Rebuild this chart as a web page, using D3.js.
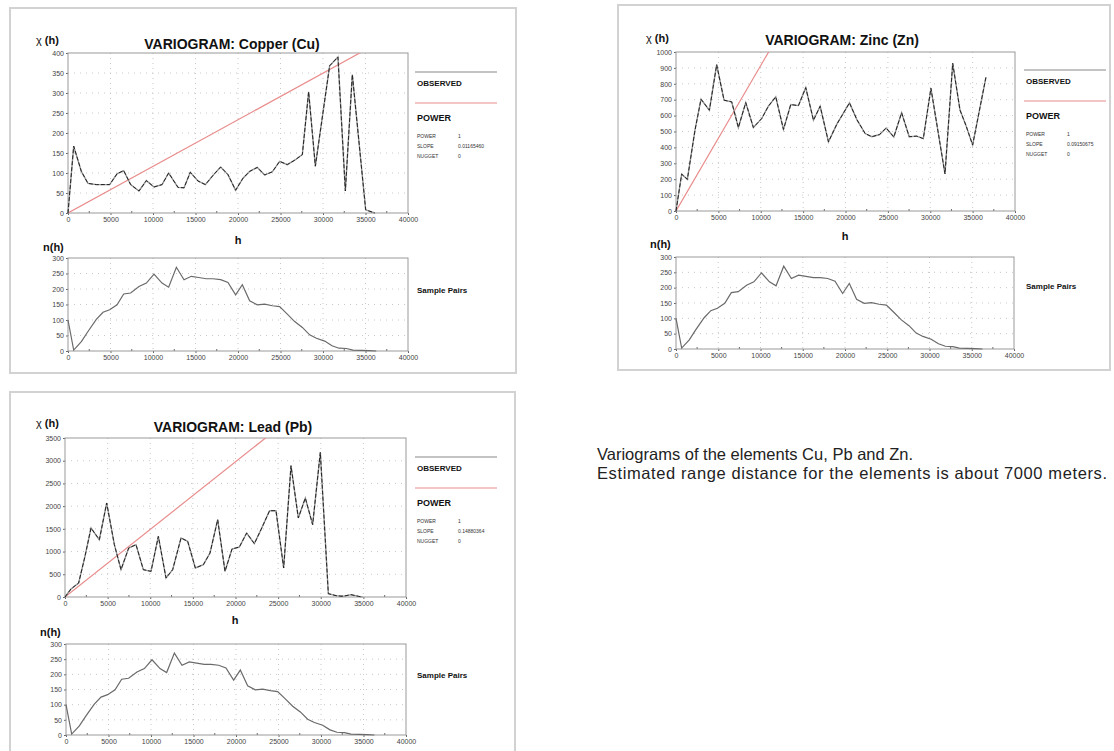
<!DOCTYPE html>
<html>
<head>
<meta charset="utf-8">
<script src="https://cdnjs.cloudflare.com/ajax/libs/d3/7.8.5/d3.min.js"></script>
<style>
  body { margin: 0; background: #fff; }
  svg { font-family: "Liberation Sans", Arial, sans-serif; }
  .tick text { fill: #444; font-size: 7px; }
  .tick line { stroke: #666; }
</style>
</head>
<body>
<script>
// lag distances (h) and observed semivariance for each element
const lagCu = [0, 670, 1570, 2350, 3330, 4900, 5770, 6550, 7370, 8350, 9220, 10120, 11060, 11840, 12940, 13650, 14390, 15290, 16160, 17140, 17960, 18820, 19720, 20590, 21370, 22270, 23140, 24040, 24900, 25800, 26670, 27570, 28310, 29100, 30780, 31760, 32630, 33450, 35020, 36080];
const gammaCu = [0, 167, 104, 74, 71, 71, 98, 106, 71, 55, 81, 65, 71, 100, 64, 63, 102, 80, 71, 96, 115, 96, 57, 87, 104, 114, 95, 103, 129, 121, 132, 146, 303, 117, 368, 390, 55, 346, 8, 0];

const lagZn = [0, 670, 1340, 2240, 2950, 3940, 4800, 5670, 6570, 7360, 8230, 9130, 10120, 10900, 11770, 12680, 13540, 14450, 15310, 16220, 17010, 17990, 18980, 20470, 21340, 22320, 23110, 24020, 24800, 25700, 26620, 27520, 28400, 29180, 30080, 31740, 32650, 33510, 34200, 35000, 36570];
const gammaZn = [0, 232, 199, 508, 703, 634, 920, 697, 686, 525, 682, 525, 582, 659, 718, 513, 669, 663, 776, 571, 659, 435, 546, 680, 575, 487, 467, 481, 522, 465, 618, 467, 471, 455, 772, 233, 929, 635, 540, 415, 841];

const lagPb = [0, 700, 1600, 2350, 3050, 4030, 4890, 5790, 6570, 7470, 8330, 9190, 10090, 10950, 11850, 12630, 13610, 14390, 15290, 16230, 17010, 17910, 18770, 19590, 20450, 21310, 22210, 22990, 24000, 24750, 25650, 26510, 27370, 28190, 29050, 29950, 30890, 31790, 32570, 33550, 34440, 34900];
const gammaPb = [0, 176, 308, 900, 1519, 1262, 2069, 1152, 602, 1078, 1152, 602, 565, 1335, 418, 602, 1299, 1225, 638, 712, 968, 1702, 565, 1057, 1100, 1409, 1174, 1482, 1900, 1900, 638, 2890, 1739, 2179, 1592, 3184, 73, 29, 15, 51, 15, 0];

// number of sample pairs per lag (same in all three panels)
const lagPairs = [0, 670, 1570, 2350, 3330, 4120, 4900, 5770, 6550, 7370, 8350, 9220, 10120, 11060, 11840, 12750, 13650, 14510, 15370, 16270, 17060, 17960, 18820, 19720, 20510, 21370, 22270, 23140, 24040, 24900, 25800, 26670, 27570, 28430, 29220, 30200, 31060, 31880, 32750, 33530, 34510, 35410, 36270];
const nPairs = [100, 3, 30, 63, 102, 125, 133, 149, 184, 187, 208, 219, 248, 219, 206, 270, 230, 241, 237, 233, 233, 230, 221, 181, 214, 162, 149, 151, 146, 143, 119, 95, 76, 52, 41, 32, 17, 9, 8, 3, 2, 1, 0];

// axis ticks
const hTicks = [0, 5000, 10000, 15000, 20000, 25000, 30000, 35000, 40000];
const cuTicks = [0, 50, 100, 150, 200, 250, 300, 350, 400];
const znTicks = [0, 100, 200, 300, 400, 500, 600, 700, 800, 900, 1000];
const pbTicks = [0, 500, 1000, 1500, 2000, 2500, 3000, 3500];
const pairTicks = [0, 50, 100, 150, 200, 250, 300];

// power model parameters shown in the legends
const titles = ['VARIOGRAM: Copper (Cu)', 'VARIOGRAM: Zinc (Zn)', 'VARIOGRAM: Lead (Pb)'];
const modelKeys = ['POWER', 'SLOPE', 'NUGGET'];
const modelCu = ['1', '0.01165460', '0'];
const modelZn = ['1', '0.09150675', '0'];
const modelPb = ['1', '0.14880364', '0'];

const note = ['Variograms of the elements Cu, Pb and Zn.',
              'Estimated range distance for the elements is about 7000 meters.'];

const svg = d3.select('body').append('svg')
    .attr('width', 1114)
    .attr('height', 751);

let clipCount = 0;

function drawPlot(box, yTicks, lag, vals, slope, isPairs) {
    const x = d3.scaleLinear().domain([0, 40000]).range([box.left, box.right]);
    const y = d3.scaleLinear().domain([0, d3.max(yTicks)]).range([box.bottom, box.top]);
    const g = svg.append('g');

    // faint dotted grid
    g.selectAll('.vgrid')
        .data(hTicks.slice(1, -1))
        .enter().append('line')
        .attr('x1', d => x(d)).attr('x2', d => x(d))
        .attr('y1', box.top).attr('y2', box.bottom)
        .attr('stroke', '#c8c8c8').attr('stroke-dasharray', '1,4');
    g.selectAll('.hgrid')
        .data(yTicks.slice(1, -1))
        .enter().append('line')
        .attr('x1', box.left).attr('x2', box.right)
        .attr('y1', d => y(d)).attr('y2', d => y(d))
        .attr('stroke', '#c8c8c8').attr('stroke-dasharray', '1,5');

    // minor ticks on the h axis
    g.selectAll('.minor')
        .data(d3.range(2500, 40000, 5000))
        .enter().append('line')
        .attr('x1', d => x(d)).attr('x2', d => x(d))
        .attr('y1', box.bottom).attr('y2', box.bottom - 2)
        .attr('stroke', '#666');

    const xAxis = g.append('g')
        .attr('transform', `translate(0, ${box.bottom})`)
        .call(d3.axisBottom(x).tickValues(hTicks).tickFormat(d3.format('d')).tickSize(2).tickPadding(2));
    xAxis.select('.domain').remove();

    const yAxis = g.append('g')
        .attr('transform', `translate(${box.left}, 0)`)
        .call(d3.axisLeft(y).tickValues(yTicks).tickFormat(d3.format('d')).tickSize(2).tickPadding(2));
    yAxis.select('.domain').remove();

    g.append('rect')
        .attr('x', box.left).attr('y', box.top)
        .attr('width', box.right - box.left).attr('height', box.bottom - box.top)
        .attr('fill', 'none').attr('stroke', '#999').attr('stroke-width', 1);

    const id = 'clip' + (clipCount++);
    svg.append('clipPath').attr('id', id)
        .append('rect')
        .attr('x', box.left).attr('y', box.top)
        .attr('width', box.right - box.left).attr('height', box.bottom - box.top);

    if (slope) {
        g.append('line')
            .attr('clip-path', `url(#${id})`)
            .attr('x1', x(0)).attr('y1', y(0))
            .attr('x2', x(40000)).attr('y2', y(slope * 40000))
            .attr('stroke', '#e98c8c').attr('stroke-width', 1.2);
    }

    const pts = lag.map((h, i) => [h, vals[i]]);
    const line = d3.line().x(d => x(d[0])).y(d => y(d[1]));

    if (isPairs) {
        g.append('path').datum(pts)
            .attr('d', line)
            .attr('fill', 'none').attr('stroke', '#6a6a6a').attr('stroke-width', 1.2);
    } else {
        g.append('path').datum(pts)
            .attr('d', line)
            .attr('fill', 'none').attr('stroke', '#999').attr('stroke-width', 1.4);
        g.append('path').datum(pts)
            .attr('d', line)
            .attr('fill', 'none').attr('stroke', '#222').attr('stroke-width', 1)
            .attr('stroke-dasharray', '4,2');
    }
}

function label(txt, px, py, size, opts = {}) {
    return svg.append('text')
        .attr('x', px).attr('y', py)
        .attr('font-size', size)
        .attr('font-weight', opts.weight || 'bold')
        .attr('text-anchor', opts.anchor || 'start')
        .attr('fill', opts.fill || '#111')
        .text(txt);
}

function drawLegend(lx, ly, model) {
    // ly: y of the grey "observed" rule
    svg.append('line')
        .attr('x1', lx - 2).attr('x2', lx + 80)
        .attr('y1', ly).attr('y2', ly)
        .attr('stroke', '#888').attr('stroke-width', 1);
    label('OBSERVED', lx, ly + 14, 8);
    svg.append('line')
        .attr('x1', lx - 2).attr('x2', lx + 80)
        .attr('y1', ly + 31).attr('y2', ly + 31)
        .attr('stroke', '#e98c8c').attr('stroke-width', 1.2);
    label('POWER', lx, ly + 49, 9);
    modelKeys.forEach((k, i) => {
        label(k, lx, ly + 66 + i * 10, 5, { weight: 'normal', fill: '#333' });
        label(model[i], lx + 41, ly + 66 + i * 10, 5, { weight: 'normal', fill: '#333' });
    });
}

function panelFrame(px, py, w, h) {
    svg.append('rect')
        .attr('x', px).attr('y', py)
        .attr('width', w).attr('height', h)
        .attr('fill', '#fff')
        .attr('stroke', '#d2d2d2').attr('stroke-width', 2);
}

function chiLabel(px, py) {
    const t = svg.append('text').attr('x', px).attr('y', py).attr('font-size', 11).attr('fill', '#111');
    t.append('tspan').attr('font-weight', 'normal').text('χ ');
    t.append('tspan').attr('font-weight', 'bold').text('(h)');
}

// ---- Copper ----
panelFrame(10, 8, 506, 365);
label(titles[0], 232, 49, 14, { anchor: 'middle' });
chiLabel(36, 44);
drawPlot({ left: 68, right: 408, top: 53, bottom: 213 }, cuTicks, lagCu, gammaCu, +modelCu[1], false);
label('h', 238, 244, 11, { anchor: 'middle' });
label('n(h)', 43, 251, 11);
drawPlot({ left: 68, right: 408, top: 258, bottom: 351 }, pairTicks, lagPairs, nPairs, null, true);
drawLegend(417, 72, modelCu);
label('Sample Pairs', 417, 293, 8);

// ---- Zinc ----
panelFrame(618, 5, 492, 365);
label(titles[1], 842, 45, 14, { anchor: 'middle' });
chiLabel(646, 42);
drawPlot({ left: 676, right: 1015, top: 52, bottom: 211 }, znTicks, lagZn, gammaZn, +modelZn[1], false);
label('h', 845, 240, 11, { anchor: 'middle' });
label('n(h)', 650, 248, 11);
drawPlot({ left: 676, right: 1014, top: 257, bottom: 349 }, pairTicks, lagPairs, nPairs, null, true);
drawLegend(1026, 70, modelZn);
label('Sample Pairs', 1026, 289, 8);

// ---- Lead ----
panelFrame(10, 392, 505, 380);
label(titles[2], 233, 432, 14, { anchor: 'middle' });
chiLabel(36, 427);
drawPlot({ left: 65, right: 406, top: 438, bottom: 597 }, pbTicks, lagPb, gammaPb, +modelPb[1], false);
label('h', 235, 624, 11, { anchor: 'middle' });
label('n(h)', 40, 636, 11);
drawPlot({ left: 66, right: 406, top: 644, bottom: 735 }, pairTicks, lagPairs, nPairs, null, true);
drawLegend(417, 457, modelPb);
label('Sample Pairs', 417, 678, 8);

// ---- note ----
note.forEach((t, i) => {
    const txt = label(t, 597, 460 + i * 19, 16.5, { weight: 'normal', fill: '#222' });
    if (i === 1) txt.attr('textLength', 510).attr('lengthAdjust', 'spacing');
});
</script>
</body>
</html>
